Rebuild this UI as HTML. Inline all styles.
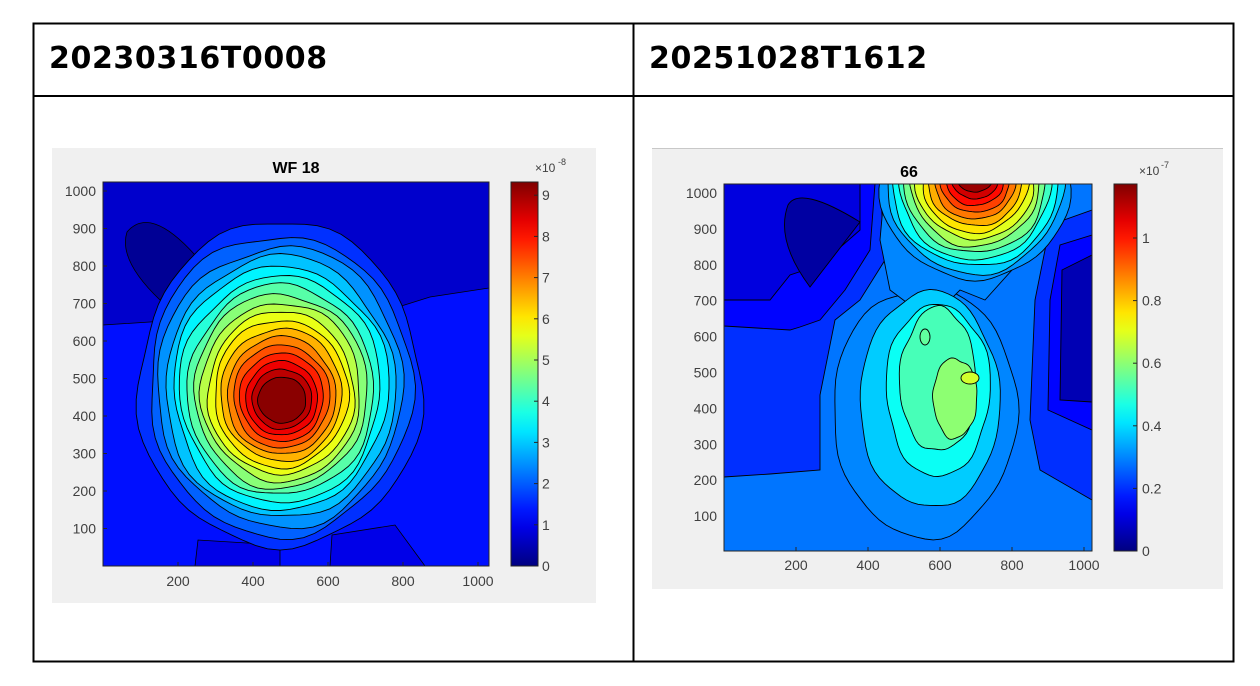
<!DOCTYPE html>
<html><head><meta charset="utf-8"><style>
body{margin:0;background:#fff;width:1260px;height:686px;overflow:hidden;font-family:"Liberation Sans","DejaVu Sans",sans-serif}
.h{position:absolute;font-weight:bold;font-size:30px;font-family:"DejaVu Sans","Liberation Sans",sans-serif;color:#000;letter-spacing:0.6px}
svg{position:absolute;left:0;top:0}
</style></head><body>
<div class="h" style="left:49px;top:41px">20230316T0008</div>
<div class="h" style="left:649px;top:41px">20251028T1612</div>
<svg id="s" width="1260" height="686" xmlns="http://www.w3.org/2000/svg" font-family="Liberation Sans, DejaVu Sans, sans-serif">
<rect x="33.5" y="23.5" width="1200" height="638" fill="none" stroke="#000" stroke-width="2"/>
<line x1="33" y1="96" x2="1234" y2="96" stroke="#000" stroke-width="2"/>
<line x1="633.5" y1="23" x2="633.5" y2="662" stroke="#000" stroke-width="2"/>
<rect x="52" y="148" width="544" height="455" fill="#f0f0f0"/>
<rect x="652" y="149" width="571" height="440" fill="#f0f0f0"/>
<line x1="652" y1="148.5" x2="1223" y2="148.5" stroke="#c8c8c8"/>
<g id="L"></g><g id="R"></g>
<text x="296" y="173" font-size="16" font-weight="bold" text-anchor="middle">WF 18</text>
<text x="909" y="177" font-size="16" font-weight="bold" text-anchor="middle">66</text>
</svg>
<script>
function jet(t){t=Math.max(0,Math.min(1,t));function c(x){return Math.round(255*Math.max(0,Math.min(1,x)))}
return `rgb(${c(1.5-Math.abs(4*t-3))},${c(1.5-Math.abs(4*t-2))},${c(1.5-Math.abs(4*t-1))})`}
function blob(cx,cy,rx,ry,seed,w){let p=[];for(let a=0;a<72;a++){let th=a/72*Math.PI*2;let r=1+w*(Math.sin(th*5+seed)*0.5+Math.sin(th*9+seed*2)*0.3+Math.sin(th*3+seed*3)*0.4);p.push((cx+rx*r*Math.cos(th)).toFixed(1)+','+(cy+ry*r*Math.sin(th)).toFixed(1))}return p.join(' ')}
let L='';
L+='<clipPath id="cl"><rect x="103" y="182" width="386" height="384"/></clipPath><g clip-path="url(#cl)">';
L+=`<rect x="103" y="182" width="386" height="384" fill="${jet(1.3/9.3)}"/>`;
L+=`<polygon points="103,182 489,182 489,288 430,297 395,308 200,318 150,322 103,325" fill="${jet(0.7/9.3)}" stroke="#000" stroke-width="0.8"/>`;
L+=`<path d="M127,232 Q150,205 195,255 L160,300 Q118,260 127,232Z" fill="${jet(0.2/9.3)}" stroke="#000" stroke-width="0.8"/>`;
L+=`<path d="M195,566 L198,540 L280,545 L280,566Z M330,566 L332,535 L395,525 L425,566Z" fill="${jet(0.95/9.3)}" stroke="#000" stroke-width="0.8"/>`;
let n=18;for(let i=0;i<n;i++){let f=i/(n-1);let lv=1.6+f*7.6;let g=Math.pow(f,0.85);
L+=`<polygon points="${blob(280+f*2,385+f*15,(142-g*118),(163-g*140),i*0.7,0.022+0.01*(1-f))}" fill="${jet(lv/9.3)}" stroke="#000" stroke-width="0.9"/>`;}
L+='</g><rect x="103" y="182" width="386" height="384" fill="none" stroke="#262626" stroke-width="1"/>';
for(let v=100;v<=1000;v+=100){let y=566-v*0.375;L+=`<text x="96" y="${y+5}" font-size="14" fill="#404040" text-anchor="end">${v}</text><line x1="103" x2="107" y1="${y}" y2="${y}" stroke="#262626"/>`}
for(let v=200;v<=1000;v+=200){let x=103+v*0.375;L+=`<text x="${x}" y="586" font-size="14" fill="#404040" text-anchor="middle">${v}</text><line x1="${x}" x2="${x}" y1="566" y2="562" stroke="#262626"/>`}
L+='<defs><linearGradient id="jg" x1="0" y1="1" x2="0" y2="0">';for(let i=0;i<=20;i++)L+=`<stop offset="${i/20}" stop-color="${jet(i/20)}"/>`;L+='</linearGradient></defs>';
L+='<rect x="511" y="182" width="27" height="384" fill="url(#jg)" stroke="#262626"/>';
for(let v=0;v<=9;v++){let y=566-v*41.2;L+=`<text x="542" y="${y+5}" font-size="14" fill="#404040">${v}</text><line x1="534" x2="538" y1="${y}" y2="${y}" stroke="#262626"/>`}
L+='<text x="535" y="172" font-size="12" fill="#404040">×10</text><text x="558" y="165" font-size="9" fill="#404040">-8</text>';
document.getElementById('L').innerHTML=L;
let R='<clipPath id="cr"><rect x="724" y="184" width="368" height="367"/></clipPath><g clip-path="url(#cr)" stroke="#000" stroke-width="0.9">';
let mx=1.17;function jc(v){return jet(v/mx)}
R+=`<rect x="724" y="184" width="368" height="367" fill="${jc(0.28)}" stroke="none"/>`;
R+=`<polygon points="724,184 880,184 885,260 860,300 835,320 820,395 820,470 770,474 724,477" fill="${jc(0.2)}"/>`;
R+=`<polygon points="724,184 875,184 870,250 845,290 820,320 800,327 790,330 724,326" fill="${jc(0.15)}"/>`;
R+=`<polygon points="724,184 860,184 860,230 820,265 790,275 770,300 724,300" fill="${jc(0.11)}"/>`;
R+=`<path d="M788,205 Q800,185 860,222 L810,287 Q775,240 788,205Z" fill="${jc(0.04)}"/>`;
R+=`<polygon points="1092,210 1050,225 1035,300 1030,420 1040,470 1092,500" fill="${jc(0.2)}"/>`;
R+=`<polygon points="1092,235 1060,245 1050,300 1048,410 1092,430" fill="${jc(0.15)}"/>`;
R+=`<polygon points="1092,255 1062,270 1060,400 1092,402" fill="${jc(0.06)}"/>`;
R+=`<polygon points="${blob(925,412,92,125,1,0.03)}" fill="${jc(0.3)}"/>`;
R+=`<polygon points="885,184 1060,184 1030,250 985,300 960,290 930,320 890,290 880,240" fill="${jc(0.3)}"/>`;
R+=`<polygon points="${blob(930,400,70,108,2,0.03)}" fill="${jc(0.38)}"/>`;
R+=`<polygon points="${blob(938,390,52,86,3,0.04)}" fill="${jc(0.45)}"/>`;
R+=`<polygon points="${blob(938,380,38,72,4,0.05)}" fill="${jc(0.52)}"/>`;
R+=`<polygon points="${blob(955,398,22,40,5,0.05)}" fill="${jc(0.6)}"/>`;
R+=`<ellipse cx="970" cy="378" rx="9" ry="6" fill="${jc(0.68)}"/><ellipse cx="925" cy="337" rx="5" ry="8" fill="${jc(0.55)}"/>`;
for(let i=0;i<14;i++){let f=i/13;R+=`<polygon points="${blob(975,180,95-f*78,100-f*88,i,0.03)}" fill="${jc(0.32+f*0.82)}"/>`}
R+='</g><rect x="724" y="184" width="368" height="367" fill="none" stroke="#262626"/>';
for(let v=100;v<=1000;v+=100){let y=552-v*0.359;R+=`<text x="717" y="${y+5}" font-size="14" fill="#404040" text-anchor="end">${v}</text>`}
for(let v=200;v<=1000;v+=200){let x=724+v*0.36;R+=`<text x="${x}" y="570" font-size="14" fill="#404040" text-anchor="middle">${v}</text><line x1="${x}" x2="${x}" y1="551" y2="547" stroke="#262626"/>`}
R+='<rect x="1114" y="184" width="23" height="367" fill="url(#jg)" stroke="#262626"/>';
for(let v=0;v<=5;v++){let val=v*0.2;let y=551-val*313;R+=`<text x="1142" y="${y+5}" font-size="14" fill="#404040">${v==5?'1':v==0?'0':val.toFixed(1)}</text><line x1="1133" x2="1137" y1="${y}" y2="${y}" stroke="#262626"/>`}
R+='<text x="1139" y="175" font-size="12" fill="#404040">×10</text><text x="1161" y="168" font-size="9" fill="#404040">-7</text>';
document.getElementById('R').innerHTML=R;
</script>
</body></html>
